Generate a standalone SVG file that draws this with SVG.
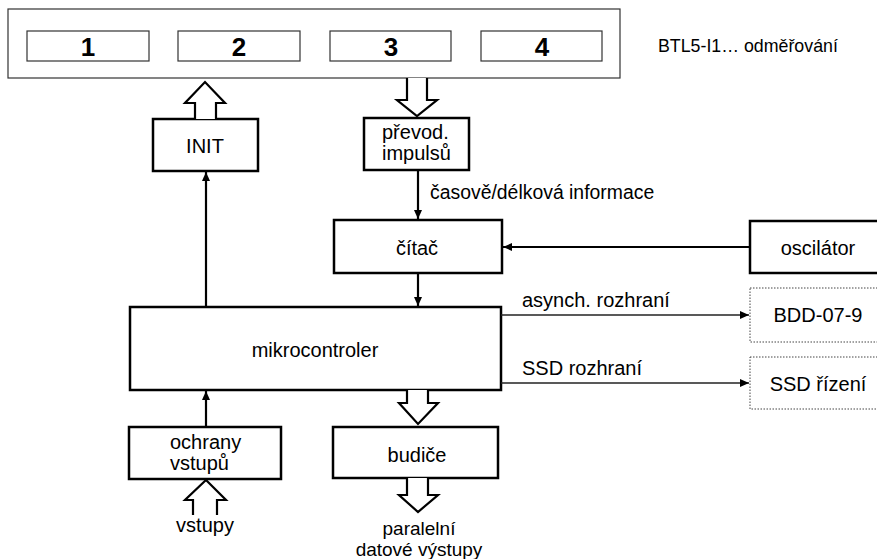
<svg xmlns="http://www.w3.org/2000/svg" width="877" height="559" viewBox="0 0 877 559">
<defs>
<style>
text{font-family:"Liberation Sans",Arial,sans-serif;fill:#000}
.lbl{font-size:20px;text-anchor:middle}
.lab{font-size:20px}
.num{font-size:26px;font-weight:bold;text-anchor:middle}
.box{fill:#fff;stroke:#000;stroke-width:2.5}
.thin{fill:#fff;stroke:#333;stroke-width:1.2}
.dot{fill:#fff;stroke:#444;stroke-width:1;stroke-dasharray:1.5 1.5}
.ln{fill:none;stroke:#000;stroke-width:2.2}
.ln2{fill:none;stroke:#222;stroke-width:1.6}
.hol{fill:#fff;stroke:#000;stroke-width:2.2;stroke-linejoin:miter}
</style>
<marker id="ah" markerWidth="10" markerHeight="8" refX="9" refY="4" orient="auto" markerUnits="userSpaceOnUse">
<path d="M0,0 L9,4 L0,8 Z" fill="#000"/>
</marker>
</defs>
<rect width="877" height="559" fill="#fff"/>

<g id="frame">
<rect class="thin" x="8" y="9" width="612" height="69"/>
</g>
<g id="n1"><rect class="thin" x="27" y="31" width="122" height="30"/><text class="num" x="88" y="56">1</text></g>
<g id="n2"><rect class="thin" x="178" y="31" width="122" height="30"/><text class="num" x="239" y="56">2</text></g>
<g id="n3"><rect class="thin" x="330" y="31" width="121" height="30"/><text class="num" x="391" y="56">3</text></g>
<g id="n4"><rect class="thin" x="481" y="31" width="121" height="30"/><text class="num" x="542" y="56">4</text></g>
<g id="title"><text x="658" y="52" style="font-size:17.8px">BTL5-I1… odměřování</text></g>

<g id="init"><rect class="box" x="153" y="119" width="105" height="52"/><text class="lbl" x="205" y="153">INIT</text></g>
<g id="prevod"><rect class="box" x="364" y="118" width="105" height="52"/><text class="lab" x="382" y="139">převod.</text><text class="lab" x="382" y="160">impulsů</text></g>
<g id="citac"><rect class="box" x="334" y="220" width="168" height="53"/><text class="lbl" x="417" y="255">čítač</text></g>
<g id="oscilator"><rect class="box" x="750" y="221" width="136" height="52"/><text class="lbl" x="818" y="255">oscilátor</text></g>
<g id="mikro"><rect class="box" x="130" y="307" width="371" height="83"/><text class="lbl" x="315" y="357">mikrocontroler</text></g>
<g id="bdd"><rect class="dot" x="750" y="288" width="136" height="54"/><text class="lbl" x="818" y="322">BDD-07-9</text></g>
<g id="ssd"><rect class="dot" x="750" y="357" width="136" height="52"/><text class="lbl" x="818" y="391">SSD řízení</text></g>
<g id="ochrany"><rect class="box" x="129" y="427" width="152" height="52"/><text class="lab" x="170" y="449">ochrany</text><text class="lab" x="170" y="470">vstupů</text></g>
<g id="budice"><rect class="box" x="333" y="427" width="165" height="51"/><text class="lbl" x="417" y="462">budiče</text></g>
<g id="vstupy"><text class="lbl" x="205" y="532">vstupy</text></g>
<g id="vystupy"><text class="lbl" x="419" y="535" style="font-size:19px">paralelní</text><text class="lbl" x="419" y="556" style="font-size:19px">datové výstupy</text></g>

<g id="connectors">
<polyline class="hol" points="195,119 195,103 185,103 205,82 225,103 216,103 216,119"/>
<polyline class="hol" points="407,78 407,100 397,100 417,116 437,100 427,100 427,78"/>
<polyline class="hol" points="407,390 407,403 399,403 418,424 438,403 428,403 428,390"/>
<polyline class="hol" points="407,478 407,495 399,495 418,512 438,495 428,495 428,478"/>
<polyline class="hol" points="193,515 193,500 185,500 206,480 226,500 217,500 217,515"/>
<line class="ln" x1="206" y1="307" x2="206" y2="172" marker-end="url(#ah)"/>
<line class="ln" x1="206" y1="427" x2="206" y2="391" marker-end="url(#ah)"/>
<line class="ln" x1="418" y1="171" x2="418" y2="219" marker-end="url(#ah)"/>
<line class="ln" x1="418" y1="273" x2="418" y2="306" marker-end="url(#ah)"/>
<line class="ln" x1="750" y1="247" x2="503" y2="247" marker-end="url(#ah)"/>
<line class="ln2" x1="501" y1="315" x2="749" y2="315" marker-end="url(#ah)"/>
<line class="ln2" x1="501" y1="383" x2="749" y2="383" marker-end="url(#ah)"/>
<text x="430" y="199" style="font-size:19.4px">časově/délková informace</text>
<text class="lab" x="522" y="307">asynch. rozhraní</text>
<text class="lab" x="522" y="375">SSD rozhraní</text>
</g>
</svg>
